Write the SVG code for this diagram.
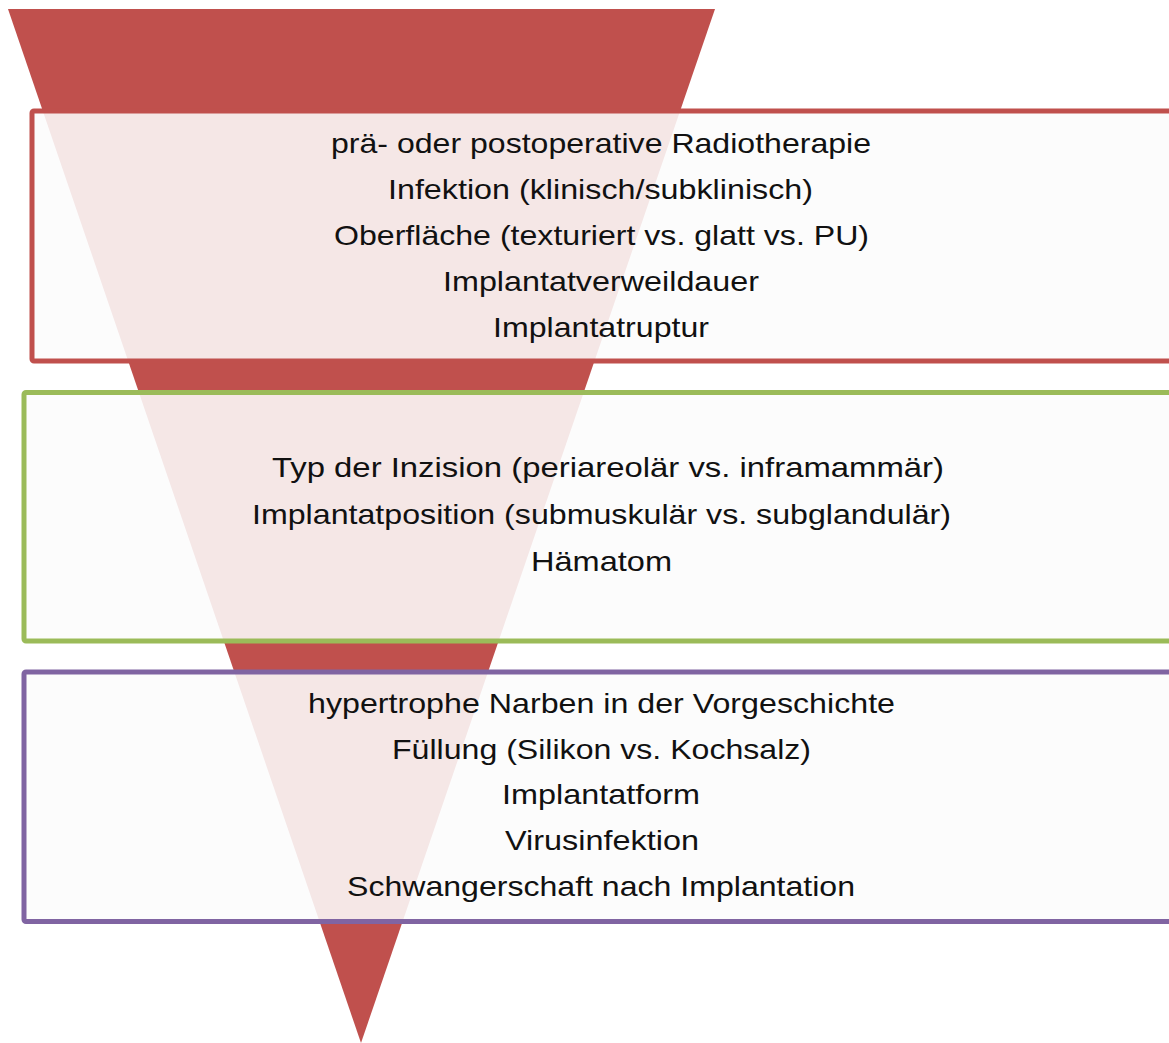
<svg xmlns="http://www.w3.org/2000/svg" width="1169" height="1043" viewBox="0 0 1169 1043">
<style>
.box{fill:#FCFCFC;fill-opacity:0.88;stroke-width:5}
.t{font-family:"Liberation Sans",Arial,sans-serif;font-size:28px;fill:#111;text-anchor:middle}
</style>
<rect width="1169" height="1043" fill="#FFFFFF"/>
<g id="triangle"><polygon points="8,9 715,9 361,1043" fill="#C0504D"/></g>
<g id="box-red">
<rect class="box" x="32" y="111" width="1140" height="250" rx="2" stroke="#C0504D"/>
<text class="t" x="601" y="153" textLength="540" lengthAdjust="spacingAndGlyphs">prä- oder postoperative Radiotherapie</text>
<text class="t" x="600.5" y="199" textLength="425" lengthAdjust="spacingAndGlyphs">Infektion (klinisch/subklinisch)</text>
<text class="t" x="601.5" y="245" textLength="535" lengthAdjust="spacingAndGlyphs">Oberfläche (texturiert vs. glatt vs. PU)</text>
<text class="t" x="601" y="291" textLength="316" lengthAdjust="spacingAndGlyphs">Implantatverweildauer</text>
<text class="t" x="601" y="337" textLength="216" lengthAdjust="spacingAndGlyphs">Implantatruptur</text>
</g>
<g id="box-green">
<rect class="box" x="24" y="392.5" width="1148" height="248.5" rx="2" stroke="#9BBB59"/>
<text class="t" x="608" y="477" textLength="672" lengthAdjust="spacingAndGlyphs">Typ der Inzision (periareolär vs. inframammär)</text>
<text class="t" x="601.5" y="524" textLength="699" lengthAdjust="spacingAndGlyphs">Implantatposition (submuskulär vs. subglandulär)</text>
<text class="t" x="601.5" y="571" textLength="141" lengthAdjust="spacingAndGlyphs">Hämatom</text>
</g>
<g id="box-purple">
<rect class="box" x="24" y="672" width="1148" height="249.5" rx="2" stroke="#8064A2"/>
<text class="t" x="601.5" y="713" textLength="587" lengthAdjust="spacingAndGlyphs">hypertrophe Narben in der Vorgeschichte</text>
<text class="t" x="601.5" y="759" textLength="419" lengthAdjust="spacingAndGlyphs">Füllung (Silikon vs. Kochsalz)</text>
<text class="t" x="601" y="804" textLength="198" lengthAdjust="spacingAndGlyphs">Implantatform</text>
<text class="t" x="602" y="850" textLength="194" lengthAdjust="spacingAndGlyphs">Virusinfektion</text>
<text class="t" x="601" y="896" textLength="508" lengthAdjust="spacingAndGlyphs">Schwangerschaft nach Implantation</text>
</g>
<g id="connectors"></g>
</svg>
